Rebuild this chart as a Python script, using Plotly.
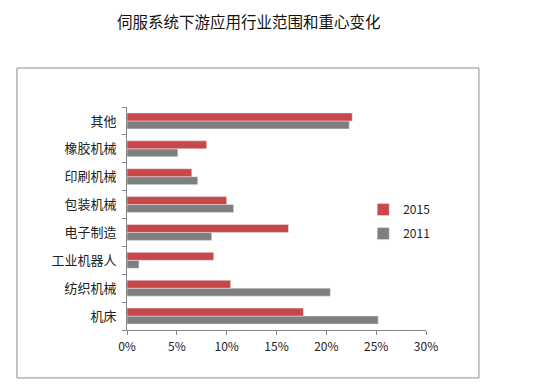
import plotly.graph_objects as go

categories = ["机床", "纺织机械", "工业机器人", "电子制造", "包装机械", "印刷机械", "橡胶机械", "其他"]
values_2015 = [17.7, 10.4, 8.7, 16.2, 10.0, 6.5, 8.0, 22.6]
values_2011 = [25.2, 20.4, 1.2, 8.5, 10.7, 7.1, 5.1, 22.3]
x_ticks = [0, 5, 10, 15, 20, 25, 30]
x_tick_labels = ["0%", "5%", "10%", "15%", "20%", "25%", "30%"]

font_family = "Noto Sans CJK SC, Noto Sans, sans-serif"

fig = go.Figure()
fig.add_trace(go.Bar(name="2011", y=categories, x=values_2011, orientation="h",
                     legendgroup="g2011", legendrank=2, marker=dict(color="#7F7F7F")))
fig.add_trace(go.Bar(name="2015", y=categories, x=values_2015, orientation="h",
                     legendgroup="g2015", legendrank=1, marker=dict(color="#C8474A")))

fig.update_layout(
    width=541, height=390,
    margin=dict(l=127, r=115, t=107, b=60),
    paper_bgcolor="white", plot_bgcolor="white",
    barmode="group", bargap=0.43, bargroupgap=0,
    font=dict(family=font_family, size=12, color="#222"),
    title=dict(text="伺服系统下游应用行业范围和重心变化", x=0.46, xanchor="center",
               y=0.943, yanchor="middle", font=dict(size=15.5, color="#111", family=font_family)),
    legend=dict(x=0.79, y=0.605, xanchor="left", yanchor="top", traceorder="grouped",
                font=dict(size=12, color="#222"), bgcolor="rgba(0,0,0,0)",
                itemwidth=30, tracegroupgap=5),
    showlegend=True,
    xaxis=dict(range=[0, 30], tickvals=x_ticks, ticktext=x_tick_labels, showgrid=False,
               showline=True, linecolor="#868686", linewidth=1, ticks="outside",
               ticklen=4, tickcolor="#868686", zeroline=False, fixedrange=True,
               tickfont=dict(size=12), ticklabelstandoff=2),
    yaxis=dict(showgrid=False, showline=True, linecolor="#868686", linewidth=1,
               ticks="outside", ticklen=4, tickcolor="#868686", tickson="boundaries",
               zeroline=False, ticklabelstandoff=7, tickfont=dict(size=13), fixedrange=True),
    shapes=[dict(type="rect", xref="paper", yref="paper", x0=-0.368, x1=1.177,
                 y0=-0.215, y1=1.175, line=dict(color="#8C8C8C", width=1),
                 fillcolor="rgba(0,0,0,0)", layer="below")],
)

fig.write_html("out.html", config={"displayModeBar": False},
               post_script="document.body.style.margin='0';")
